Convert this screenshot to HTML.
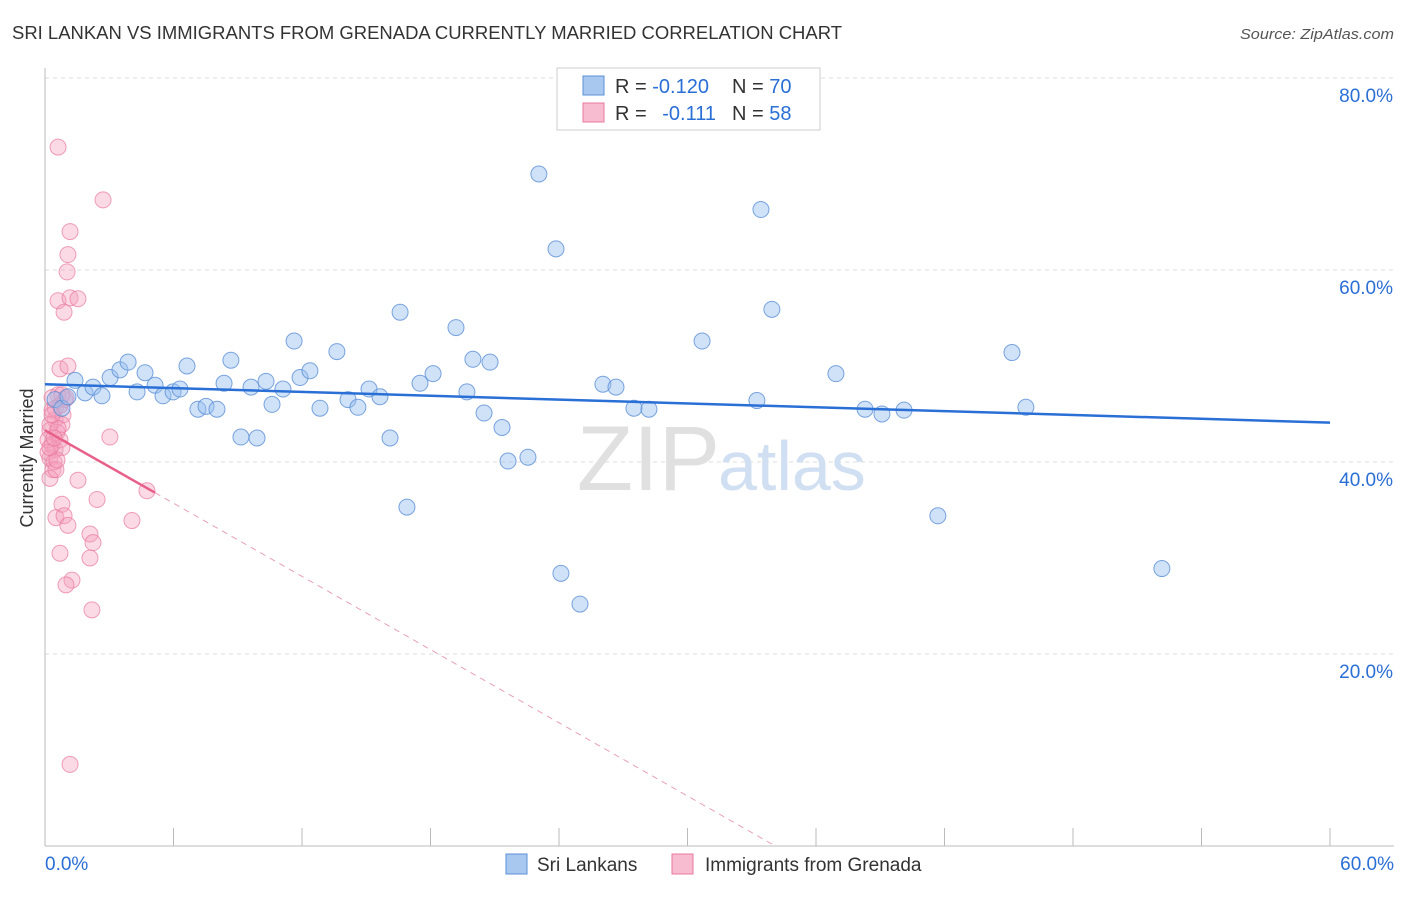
<!DOCTYPE html>
<html><head><meta charset="utf-8"><style>
body{margin:0;background:#fff;font-family:"Liberation Sans",sans-serif;}
svg text{font-family:"Liberation Sans",sans-serif;}
</style></head><body>
<svg id="chart" width="1406" height="892" viewBox="0 0 1406 892">
<text x="12" y="39" font-size="18" fill="#333" textLength="830" lengthAdjust="spacingAndGlyphs">SRI LANKAN VS IMMIGRANTS FROM GRENADA CURRENTLY MARRIED CORRELATION CHART</text>
<text x="1394" y="39" font-size="15" fill="#555" font-style="italic" text-anchor="end" textLength="154" lengthAdjust="spacingAndGlyphs">Source: ZipAtlas.com</text>
<g id="grid"></g>
<text x="720" y="490" font-size="92" fill="#e0e0e0" text-anchor="end" font-family="Liberation Serif">ZIP</text>
<text x="718" y="490" font-size="70" fill="#d0dff2">atlas</text>
<g id="marks"></g>
<text x="33" y="458" font-size="18" fill="#333" text-anchor="middle" transform="rotate(-90 33 458)">Currently Married</text>
<g>
<rect x="557" y="68" width="263" height="62" fill="#fff" stroke="#ccc"/>
<rect x="583" y="76" width="21" height="19" fill="#a8c8f0" stroke="#5b8fd6"/>
<rect x="583" y="103" width="21" height="19" fill="#f7bcd0" stroke="#e8799c"/>
<text x="615" y="93" font-size="20" fill="#333">R = <tspan fill="#2a6fd6">-0.120</tspan></text>
<text x="732" y="93" font-size="20" fill="#333">N = <tspan fill="#2a6fd6">70</tspan></text>
<text x="615" y="120" font-size="20" fill="#333">R = <tspan fill="#2a6fd6" dx="10">-0.111</tspan></text>
<text x="732" y="120" font-size="20" fill="#333">N = <tspan fill="#2a6fd6">58</tspan></text>
</g>
<g>
<rect x="506" y="854" width="21" height="20" fill="#a8c8f0" stroke="#5b8fd6"/>
<text x="537" y="871" font-size="19" fill="#333">Sri Lankans</text>
<rect x="672" y="854" width="21" height="20" fill="#f7bcd0" stroke="#e8799c"/>
<text x="705" y="871" font-size="19" fill="#333">Immigrants from Grenada</text>
</g>
</svg>
<script>
const xTicks=[0,6,12,18,24,30,36,42,48,54,60];
const yTicks=[20,40,60,80];
const xLabels=["0.0%","60.0%"];
const blueX=[0.47,0.79,1.07,1.40,1.87,2.24,2.66,3.04,3.50,3.88,4.30,4.67,5.14,5.51,5.98,6.30,6.63,7.14,7.52,8.03,8.36,8.68,9.15,9.62,9.90,10.32,10.60,11.11,11.63,11.91,12.37,12.84,13.63,14.15,14.61,15.13,15.64,16.11,16.58,16.90,17.51,18.12,19.19,19.70,19.98,20.50,20.78,21.34,21.62,22.55,23.06,23.86,24.09,24.98,26.05,26.66,27.50,28.20,30.68,33.24,33.43,33.94,36.93,38.29,39.08,40.11,41.69,45.15,45.80,52.15];
const blueY=[46.5,45.6,46.8,48.5,47.2,47.8,46.9,48.8,49.6,50.4,47.3,49.3,48.0,46.9,47.3,47.6,50.0,45.5,45.8,45.5,48.2,50.6,42.6,47.8,42.5,48.4,46.0,47.6,52.6,48.8,49.5,45.6,51.5,46.5,45.7,47.6,46.8,42.5,55.6,35.3,48.2,49.2,54.0,47.3,50.7,45.1,50.4,43.6,40.1,40.5,70.0,62.2,28.4,25.2,48.1,47.8,45.6,45.5,52.6,46.4,66.3,55.9,49.2,45.5,45.0,45.4,34.4,51.4,45.7,28.9];
const pinkX=[0.61,2.71,1.17,1.07,1.03,0.61,1.17,1.54,0.89,0.70,1.07,0.33,0.47,0.23,0.14,0.33,0.47,0.23,0.37,0.23,0.84,0.93,0.61,0.79,3.03,1.54,2.43,0.79,0.51,0.89,1.07,4.06,2.10,2.24,0.70,2.10,1.26,0.98,2.19,1.17,4.76,0.47,0.70,0.33,0.56,0.14,0.42,0.70,0.79,0.23,0.51,0.98,0.61,0.33,0.79,0.56,0.23,0.42];
const pinkY=[72.8,67.3,64.0,61.6,59.8,56.8,57.1,57.0,55.6,49.7,50.0,45.4,44.4,43.3,42.3,41.8,41.3,40.4,39.2,38.3,44.9,46.5,47.0,43.9,42.6,38.1,36.1,35.6,34.2,34.4,33.4,33.9,32.5,31.6,30.5,30.0,27.7,27.2,24.6,8.5,37.0,45.6,45.9,46.7,43.1,41.0,40.0,42.3,41.5,43.9,39.2,46.7,43.5,44.9,47.0,40.2,41.5,42.5];
const blueTrend=[48.1,44.1];
const pinkTrend=[43.3,36.8,0];
const pinkTrendX=[0,5.14,34.1];
const X=v=>45+v/60*1285;
const Y=v=>846-v*9.6;
const NS="http://www.w3.org/2000/svg";
function mk(tag,attrs,parent){const e=document.createElementNS(NS,tag);for(const k in attrs)e.setAttribute(k,attrs[k]);parent.appendChild(e);return e;}
const grid=document.getElementById('grid');
const marks=document.getElementById('marks');
yTicks.forEach(t=>{
  const l=mk('line',{x1:45,x2:1394,y1:Y(t),y2:Y(t),stroke:'#ddd','stroke-dasharray':'4,4'},grid);
  
  
  const tx=mk('text',{x:1393,y:Y(t)+24,'font-size':19,fill:'#2a6fd6','text-anchor':'end'},grid);
  tx.textContent=t.toFixed(1)+'%';
  
  
});
mk('line',{x1:45,x2:45,y1:68,y2:846,stroke:'#bbb'},grid);
mk('line',{x1:45,x2:1394,y1:846,y2:846,stroke:'#bbb'},grid);
xTicks.forEach(t=>{
  const l=mk('line',{x1:X(t),x2:X(t),y1:828,y2:846,stroke:'#bbb'},grid);
  
  
});
[[0,'start',45],[60,'end',1394]].forEach((a,i)=>{
  const tx=mk('text',{x:a[2],y:870,'font-size':19,fill:'#2a6fd6','text-anchor':a[1]},grid);
  tx.textContent=xLabels[i];
  
  
});
pinkX.forEach((x,i)=>{
  const c=mk('circle',{cx:X(x),cy:Y(pinkY[i]),r:8,fill:'rgba(245,160,190,0.4)',stroke:'#e8799c','stroke-opacity':0.7},marks);
  
  
});
blueX.forEach((x,i)=>{
  const c=mk('circle',{cx:X(x),cy:Y(blueY[i]),r:8,fill:'rgba(150,190,240,0.45)',stroke:'#5b8fd6','stroke-opacity':0.8},marks);
  
  
});
const bl=mk('line',{x1:X(0),y1:Y(blueTrend[0]),x2:X(60),y2:Y(blueTrend[1]),stroke:'#2a6fd6','stroke-width':2.5},marks);


const pl=mk('line',{x1:X(pinkTrendX[0]),y1:Y(pinkTrend[0]),x2:X(pinkTrendX[1]),y2:Y(pinkTrend[1]),stroke:'#e8608a','stroke-width':2.5},marks);


const pd=mk('line',{x1:X(pinkTrendX[1]),y1:Y(pinkTrend[1]),x2:X(pinkTrendX[2]),y2:Y(pinkTrend[2]),stroke:'#e8a0b8','stroke-width':1,'stroke-dasharray':'6,5'},marks);


</script>
</body></html>
